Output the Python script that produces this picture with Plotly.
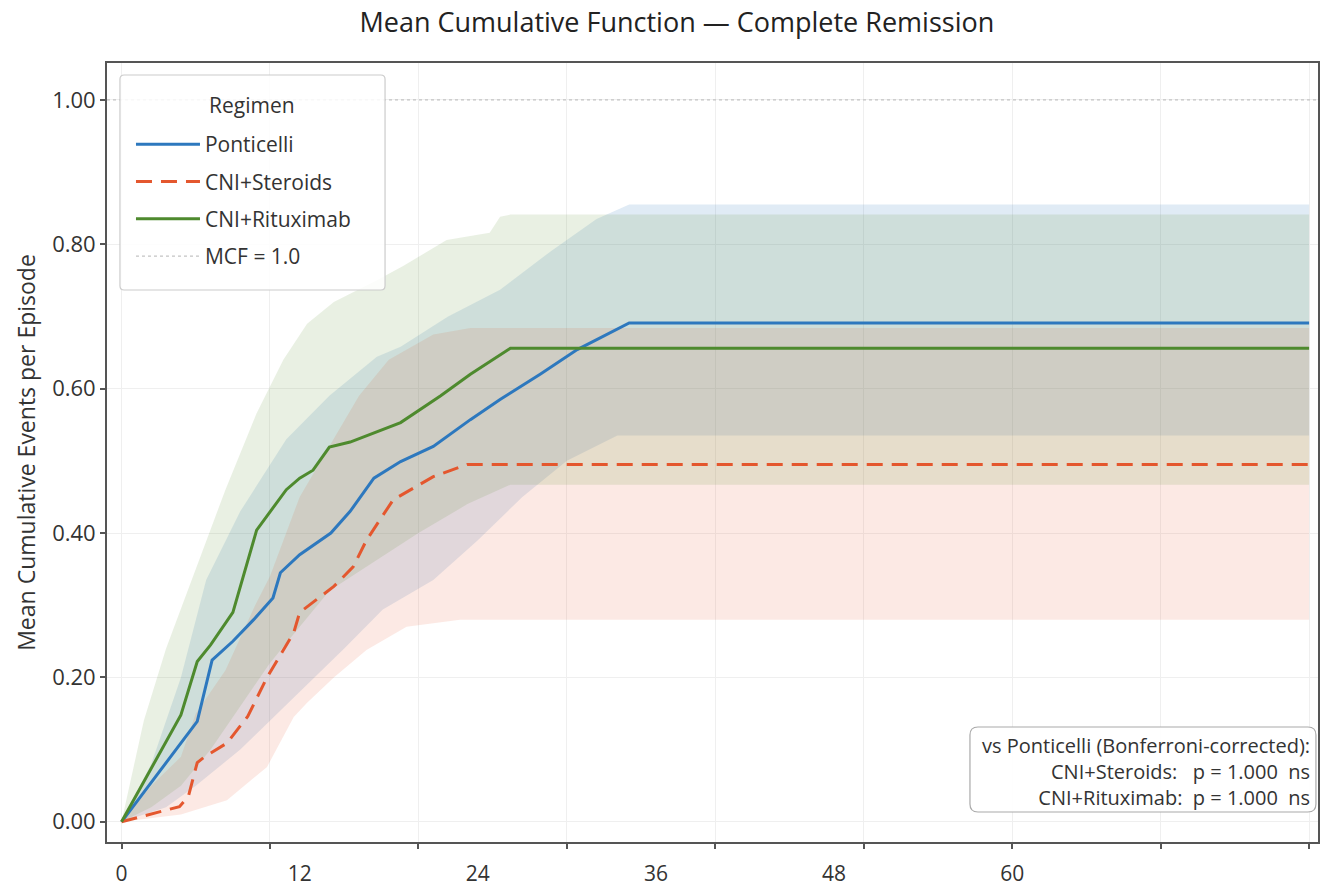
import plotly.graph_objects as go

# ---------------- data (months, MCF) ----------------
pont_t = [0, 5.1, 6.1, 7.5, 8.9, 10.2, 10.7, 12.0, 14.1, 15.4, 17.0, 18.8, 21.0, 23.5, 25.5, 28.2, 30.7, 34.2, 80]
pont_v = [0, 0.139, 0.224, 0.25, 0.28, 0.31, 0.345, 0.37, 0.40, 0.43, 0.476, 0.499, 0.52, 0.557, 0.585, 0.62, 0.654, 0.691, 0.691]

ster_t = [0, 3.9, 4.5, 5.1, 5.6, 7.1, 8.5, 9.8, 10.5, 11.6, 12.0, 14.3, 15.6, 16.5, 18.3, 21.0, 23.3, 80]
ster_v = [0, 0.021, 0.035, 0.082, 0.09, 0.109, 0.146, 0.2, 0.224, 0.262, 0.29, 0.326, 0.353, 0.39, 0.446, 0.478, 0.495, 0.495]

rit_t = [0, 4.0, 5.1, 6.0, 7.5, 8.2, 9.1, 11.1, 12.0, 12.9, 14.0, 15.4, 18.8, 21.5, 23.5, 26.2, 80]
rit_v = [0, 0.148, 0.222, 0.245, 0.29, 0.339, 0.404, 0.46, 0.476, 0.487, 0.519, 0.526, 0.553, 0.59, 0.62, 0.656, 0.656]

# confidence bands
pont_hi_t = [0, 2, 4, 5.7, 8, 11.1, 14, 17.2, 18.8, 22, 25.5, 28.9, 32, 34.2, 80]
pont_hi = [0, 0.08, 0.2, 0.335, 0.43, 0.53, 0.59, 0.644, 0.658, 0.70, 0.737, 0.79, 0.835, 0.855, 0.855]
pont_lo_t = [0, 3, 5, 8, 10, 12, 15, 17.6, 21, 24, 27, 30, 33.4, 80]
pont_lo = [0, 0.02, 0.05, 0.1, 0.14, 0.18, 0.24, 0.294, 0.335, 0.39, 0.45, 0.5, 0.535, 0.535]

ster_hi_t = [0, 2, 4, 5, 7, 9, 10, 12, 14, 16, 18, 21, 23.5, 80]
ster_hi = [0, 0.05, 0.09, 0.15, 0.21, 0.3, 0.34, 0.45, 0.52, 0.59, 0.64, 0.675, 0.684, 0.684]
ster_lo_t = [0, 4, 7.1, 9.8, 11.6, 12.5, 14.3, 16.5, 19.2, 22.8, 80]
ster_lo = [0, 0.01, 0.03, 0.076, 0.145, 0.165, 0.2, 0.238, 0.27, 0.28, 0.28]

rit_hi_t = [0, 1.5, 3, 5.3, 7, 9.1, 10.9, 12.5, 14.3, 17.2, 19, 21.9, 24.8, 25.5, 26.2, 80]
rit_hi = [0, 0.14, 0.24, 0.367, 0.46, 0.566, 0.64, 0.69, 0.72, 0.75, 0.77, 0.806, 0.816, 0.838, 0.841, 0.841]
rit_lo_t = [0, 2, 4, 6, 8, 10, 12, 14, 17, 20, 23.3, 26.2, 80]
rit_lo = [0, 0.02, 0.05, 0.1, 0.16, 0.22, 0.27, 0.32, 0.36, 0.40, 0.44, 0.467, 0.467]

ref_level = 1.0
x_range = [-0.98, 80.6]
y_range = [-0.028, 1.051]
x_tick_marks = [0, 10, 20, 30, 40, 50, 60, 70, 80]
x_label_vals = [0, 12, 24, 36, 48, 60]
x_label_text = ["0", "12", "24", "36", "48", "60"]
y_ticks = [0, 0.2, 0.4, 0.6, 0.8, 1.0]

FONT = "Open Sans"
C_BLUE = "#2d78be"
C_ORANGE = "#e4572e"
C_GREEN = "#4e8a2e"
TXT = "#333333"

fig = go.Figure()

def band(t_hi, hi, t_lo, lo, color):
    fig.add_trace(go.Scatter(
        x=list(t_hi) + list(t_lo)[::-1],
        y=list(hi) + list(lo)[::-1],
        fill="toself", fillcolor=color, mode="lines",
        line=dict(width=0), hoverinfo="skip", showlegend=False))

band(pont_hi_t, pont_hi, pont_lo_t, pont_lo, "rgba(45,120,190,0.15)")
band(ster_hi_t, ster_hi, ster_lo_t, ster_lo, "rgba(228,87,46,0.13)")
band(rit_hi_t, rit_hi, rit_lo_t, rit_lo, "rgba(100,150,60,0.14)")

fig.add_trace(go.Scatter(x=pont_t, y=pont_v, mode="lines", name="Ponticelli",
                         legendgroup="a", line=dict(color=C_BLUE, width=3)))
fig.add_trace(go.Scatter(x=ster_t, y=ster_v, mode="lines", name="CNI+Steroids",
                         legendgroup="b", line=dict(color=C_ORANGE, width=3, dash="16px,9px")))
fig.add_trace(go.Scatter(x=rit_t, y=rit_v, mode="lines", name="CNI+Rituximab",
                         legendgroup="c", line=dict(color=C_GREEN, width=3)))
fig.add_trace(go.Scatter(x=x_range, y=[ref_level, ref_level], mode="lines",
                         name="MCF = 1.0", xaxis="x2", legendgroup="d",
                         line=dict(color="#c4c4c4", width=1.3, dash="dot")))

fig.update_layout(
    width=1322, height=890,
    margin=dict(l=107, r=4, t=63, b=48, autoexpand=False),
    paper_bgcolor="white", plot_bgcolor="white",
    font=dict(family=FONT, color=TXT, size=22),
    title=dict(text="Mean Cumulative Function — Complete Remission",
               x=0.512, xanchor="center", y=0.975, yanchor="middle",
               font=dict(size=27, color="#222222")),
    xaxis=dict(range=x_range, tickvals=x_tick_marks, showticklabels=False,
               ticks="outside", ticklen=5, tickwidth=1.5, tickcolor="#555555",
               showline=True, linecolor="#555555", linewidth=1.8, mirror=True,
               showgrid=True, gridcolor="#efefef", gridwidth=1, zeroline=False,
               automargin=False),
    xaxis2=dict(range=x_range, overlaying="x", anchor="y", side="bottom",
                tickvals=x_label_vals, ticktext=x_label_text,
                ticks="outside", ticklen=13, tickcolor="rgba(0,0,0,0)",
                showline=False, showgrid=False, zeroline=False, automargin=False,
                tickfont=dict(size=21, color=TXT)),
    yaxis=dict(range=y_range, tickvals=y_ticks, tickformat=".2f",
               ticks="outside", ticklen=5, tickwidth=1.5, tickcolor="#555555",
               showline=True, linecolor="#555555", linewidth=1.8, mirror=True,
               showgrid=True, gridcolor="#efefef", gridwidth=1, zeroline=False,
               automargin=False,
               tickfont=dict(size=22, color=TXT),
               title=dict(text="Mean Cumulative Events per Episode", standoff=10,
                          font=dict(size=23, color=TXT))),
    legend=dict(x=0.0198, y=0.9217, xanchor="left", yanchor="top",
                bgcolor="rgba(0,0,0,0)", borderwidth=0,
                font=dict(size=21, color=TXT), tracegroupgap=7, itemwidth=64),
    showlegend=True,
)

def rounded_box(x0, x1, y0, y1, rx, ry):
    return (f"M {x0+rx},{y0} L {x1-rx},{y0} Q {x1},{y0} {x1},{y0+ry} "
            f"L {x1},{y1-ry} Q {x1},{y1} {x1-rx},{y1} L {x0+rx},{y1} "
            f"Q {x0},{y1} {x0},{y1-ry} L {x0},{y0+ry} Q {x0},{y0} {x0+rx},{y0} Z")

# legend frame + title
fig.add_shape(type="path", path=rounded_box(0.0107, 0.2296, 0.7086, 0.9846, 0.0035, 0.0055),
              xref="paper", yref="paper", fillcolor="rgba(255,255,255,0.85)",
              line=dict(color="#cccccc", width=1.2), layer="above")
fig.add_annotation(xref="paper", yref="paper", x=0.1197, y=0.9461,
                   xanchor="center", yanchor="middle", text="Regimen",
                   showarrow=False, font=dict(size=21, color=TXT))

# rounded box behind the significance note
fig.add_shape(type="path", path=rounded_box(0.7126, 0.9983, 0.0385, 0.1476, 0.0066, 0.0103),
              xref="paper", yref="paper",
              fillcolor="rgba(255,255,255,0.9)", line=dict(color="#aaaaaa", width=1.2),
              layer="above")
fig.add_annotation(
    xref="paper", yref="paper", x=0.995, y=0.0911, xanchor="right", yanchor="middle",
    text="vs Ponticelli (Bonferroni-corrected):<br>CNI+Steroids:   p = 1.000  ns<br>CNI+Rituximab:  p = 1.000  ns",
    align="right", showarrow=False, font=dict(size=20, color=TXT))

fig.write_html("out.html")
